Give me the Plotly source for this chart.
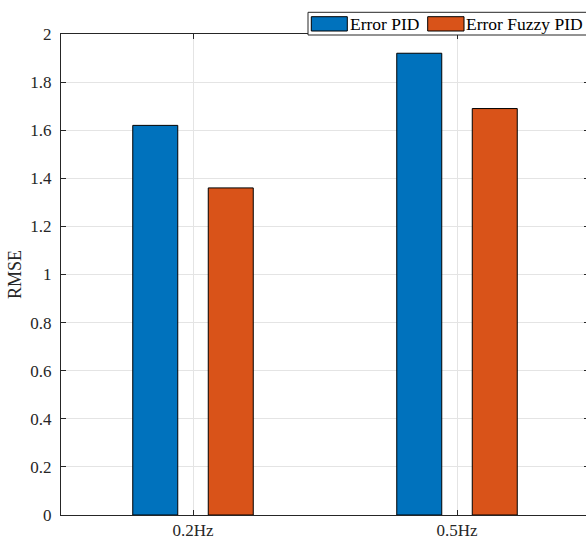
import plotly.graph_objects as go

categories = ["0.2Hz", "0.5Hz"]
err_pid = [1.62, 1.92]
err_fuzzy = [1.36, 1.69]
series_names = ["Error PID", "Error Fuzzy PID"]
yticks = [0, 0.2, 0.4, 0.6, 0.8, 1, 1.2, 1.4, 1.6, 1.8, 2]
yticktext = ["0", "0.2", "0.4", "0.6", "0.8", "1", "1.2", "1.4", "1.6", "1.8", "2"]

# figure is slightly wider than the 586px window; the right axis falls just outside
W, H = 589, 542
ML, MR, MT, MB = 61, 0, 34, 27
PW, PH = W - ML - MR, H - MT - MB

BLUE = "#0072BD"
ORANGE = "#D95319"
AX = "#262626"
FONT = "Times New Roman, Liberation Serif, Tinos, DejaVu Serif, serif"

xpos = [i + 1 for i in range(len(categories))]

fig = go.Figure()
fig.add_trace(go.Bar(x=xpos, y=err_pid, name=series_names[0],
                     marker=dict(color=BLUE, line=dict(color="#000000", width=1)),
                     showlegend=False))
fig.add_trace(go.Bar(x=xpos, y=err_fuzzy, name=series_names[1],
                     marker=dict(color=ORANGE, line=dict(color="#000000", width=1)),
                     showlegend=False))


def px(x):
    return (x - ML) / PW


def py(y):
    return (MT + PH - y) / PH


shapes = []
annotations = []
# custom legend box
shapes.append(dict(type="rect", xref="paper", yref="paper", layer="above",
                   x0=px(308), x1=px(595), y0=py(35), y1=py(12.3),
                   fillcolor="white", line=dict(color=AX, width=1)))
legend_items = [(series_names[0], BLUE, 311.3, 347.3, 350),
                (series_names[1], ORANGE, 427.7, 464, 465.7)]
for name, col, sx0, sx1, tx in legend_items:
    shapes.append(dict(type="rect", xref="paper", yref="paper", layer="above",
                       x0=px(sx0), x1=px(sx1), y0=py(31), y1=py(16.7),
                       fillcolor=col, line=dict(color="#000000", width=1)))
    annotations.append(dict(xref="paper", yref="paper", x=px(tx) - 0.004, y=py(24),
                            xanchor="left", yanchor="middle", showarrow=False,
                            text=name, font=dict(family=FONT, size=17.5, color="#000000")))

fig.update_layout(
    width=W, height=H,
    margin=dict(l=ML, r=MR, t=MT, b=MB, pad=0, autoexpand=False),
    paper_bgcolor="white", plot_bgcolor="white",
    barmode="group", bargap=0.428, bargroupgap=0.404,
    font=dict(family=FONT, size=17, color=AX),
    shapes=shapes, annotations=annotations,
    showlegend=False,
)
fig.update_xaxes(
    range=[0.5, 2.5],
    tickvals=xpos, ticktext=categories,
    ticks="inside", ticklen=5, tickcolor=AX, tickwidth=1,
    showline=True, linecolor=AX, linewidth=1, mirror="ticks",
    showgrid=True, gridcolor="#e4e4e4", gridwidth=1,
    zeroline=False, ticklabelstandoff=0, automargin=False,
    tickfont=dict(family=FONT, size=17, color=AX),
)
fig.update_yaxes(
    range=[0, 2],
    tickvals=yticks, ticktext=yticktext,
    ticks="inside", ticklen=5, tickcolor=AX, tickwidth=1,
    showline=True, linecolor=AX, linewidth=1, mirror="ticks",
    showgrid=True, gridcolor="#e4e4e4", gridwidth=1,
    zeroline=False, ticklabelstandoff=5, automargin=False,
    tickfont=dict(family=FONT, size=17, color=AX),
    title=dict(text="RMSE", font=dict(family=FONT, size=18, color=AX), standoff=4),
)

fig.write_html("out.html",
               config={"displayModeBar": False},
               post_script="document.body.style.margin='0';document.body.style.overflow='hidden';")
